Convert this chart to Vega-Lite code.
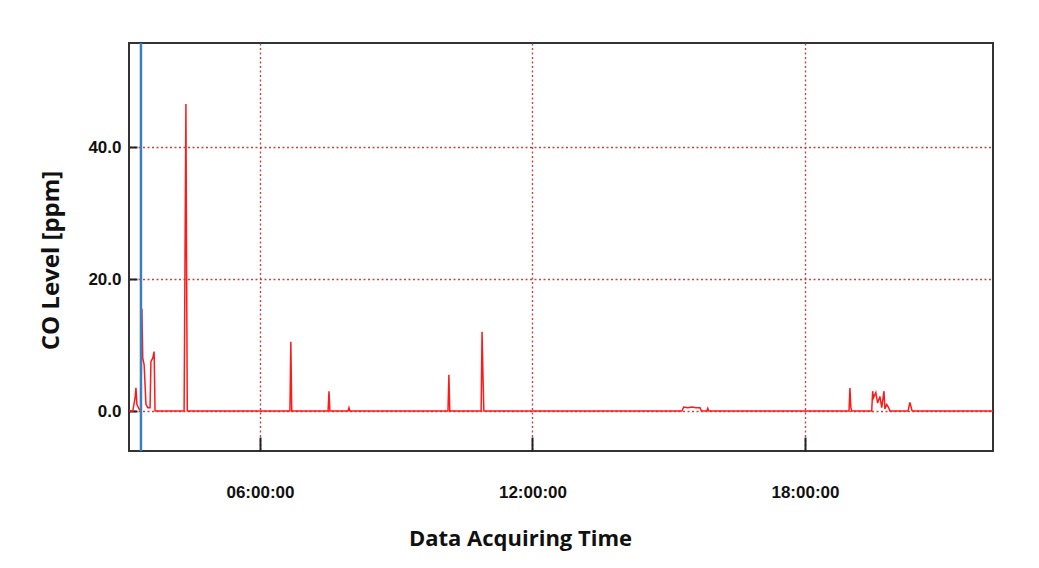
{
  "$schema": "https://vega.github.io/schema/vega-lite/v6.json",
  "width": 864,
  "height": 408,
  "autosize": {"type": "none"},
  "padding": {"left": 129, "top": 43, "right": 46, "bottom": 117},
  "background": "white",
  "config": {
    "view": {"stroke": "#333333", "strokeWidth": 2},
    "font": "Open Sans"
  },
  "datasets": {
    "co": [
      {"t": "2020-01-01T03:07:00Z", "co": 0},
      {"t": "2020-01-01T03:12:00Z", "co": 0},
      {"t": "2020-01-01T03:15:00Z", "co": 2},
      {"t": "2020-01-01T03:16:12Z", "co": 3.5},
      {"t": "2020-01-01T03:17:24Z", "co": 1},
      {"t": "2020-01-01T03:20:24Z", "co": 0.3},
      {"t": "2020-01-01T03:22:48Z", "co": 0},
      {"t": "2020-01-01T03:24:00Z", "co": 15.5},
      {"t": "2020-01-01T03:25:12Z", "co": 8},
      {"t": "2020-01-01T03:27:00Z", "co": 7},
      {"t": "2020-01-01T03:29:24Z", "co": 1},
      {"t": "2020-01-01T03:31:48Z", "co": 0.5},
      {"t": "2020-01-01T03:34:48Z", "co": 0.5},
      {"t": "2020-01-01T03:36:00Z", "co": 7.5},
      {"t": "2020-01-01T03:38:24Z", "co": 8},
      {"t": "2020-01-01T03:40:12Z", "co": 9},
      {"t": "2020-01-01T03:41:24Z", "co": 0},
      {"t": "2020-01-01T04:19:48Z", "co": 0},
      {"t": "2020-01-01T04:22:12Z", "co": 46.5},
      {"t": "2020-01-01T04:23:00Z", "co": 24},
      {"t": "2020-01-01T04:24:00Z", "co": 0},
      {"t": "2020-01-01T06:39:36Z", "co": 0},
      {"t": "2020-01-01T06:40:48Z", "co": 10.5},
      {"t": "2020-01-01T06:42:00Z", "co": 0},
      {"t": "2020-01-01T07:30:00Z", "co": 0},
      {"t": "2020-01-01T07:31:12Z", "co": 3},
      {"t": "2020-01-01T07:32:24Z", "co": 0},
      {"t": "2020-01-01T07:56:24Z", "co": 0},
      {"t": "2020-01-01T07:57:36Z", "co": 0.5},
      {"t": "2020-01-01T07:58:48Z", "co": 0},
      {"t": "2020-01-01T10:08:24Z", "co": 0},
      {"t": "2020-01-01T10:09:36Z", "co": 5.5},
      {"t": "2020-01-01T10:10:48Z", "co": 0},
      {"t": "2020-01-01T10:52:12Z", "co": 0},
      {"t": "2020-01-01T10:53:24Z", "co": 12},
      {"t": "2020-01-01T10:54:36Z", "co": 5.5},
      {"t": "2020-01-01T10:55:48Z", "co": 0},
      {"t": "2020-01-01T15:17:24Z", "co": 0},
      {"t": "2020-01-01T15:19:48Z", "co": 0.6},
      {"t": "2020-01-01T15:25:12Z", "co": 0.5},
      {"t": "2020-01-01T15:30:36Z", "co": 0.6},
      {"t": "2020-01-01T15:36:00Z", "co": 0.5},
      {"t": "2020-01-01T15:41:24Z", "co": 0.5},
      {"t": "2020-01-01T15:43:12Z", "co": 0},
      {"t": "2020-01-01T15:50:24Z", "co": 0},
      {"t": "2020-01-01T15:51:36Z", "co": 0.4},
      {"t": "2020-01-01T15:52:48Z", "co": 0},
      {"t": "2020-01-01T18:58:12Z", "co": 0},
      {"t": "2020-01-01T18:59:24Z", "co": 3.5},
      {"t": "2020-01-01T19:00:36Z", "co": 0.5},
      {"t": "2020-01-01T19:01:48Z", "co": 0},
      {"t": "2020-01-01T19:28:12Z", "co": 0},
      {"t": "2020-01-01T19:29:24Z", "co": 3},
      {"t": "2020-01-01T19:30:36Z", "co": 2},
      {"t": "2020-01-01T19:33:36Z", "co": 2.8},
      {"t": "2020-01-01T19:36:00Z", "co": 1.2},
      {"t": "2020-01-01T19:39:00Z", "co": 2.2},
      {"t": "2020-01-01T19:41:24Z", "co": 0.5},
      {"t": "2020-01-01T19:44:24Z", "co": 3},
      {"t": "2020-01-01T19:45:36Z", "co": 0.3},
      {"t": "2020-01-01T19:48:00Z", "co": 1},
      {"t": "2020-01-01T19:51:00Z", "co": 0.4},
      {"t": "2020-01-01T19:52:12Z", "co": 0},
      {"t": "2020-01-01T20:16:12Z", "co": 0},
      {"t": "2020-01-01T20:18:36Z", "co": 1.3},
      {"t": "2020-01-01T20:21:36Z", "co": 0},
      {"t": "2020-01-01T22:08:24Z", "co": 0}
    ],
    "marker": [
      {"t": "2020-01-01T03:22:48Z"}
    ]
  },
  "layer": [
    {
      "data": {"name": "co"},
      "mark": {"type": "line", "color": "#ff1a1a", "strokeWidth": 1.5, "interpolate": "linear", "clip": true},
      "encoding": {
        "x": {
          "field": "t",
          "type": "temporal",
          "scale": {
            "type": "utc",
            "domain": [
              {"year": 2020, "month": 1, "date": 1, "hours": 3, "minutes": 7, "utc": true},
              {"year": 2020, "month": 1, "date": 1, "hours": 22, "minutes": 8, "seconds": 24, "utc": true}
            ]
          },
          "axis": {
            "values": [
              {"year": 2020, "month": 1, "date": 1, "hours": 6, "utc": true},
              {"year": 2020, "month": 1, "date": 1, "hours": 12, "utc": true},
              {"year": 2020, "month": 1, "date": 1, "hours": 18, "utc": true}
            ],
            "format": "%H:%M:%S",
            "title": "Data Acquiring Time",
            "titleFont": "Open Sans",
            "titleFontSize": 22,
            "titleFontWeight": "bold",
            "titleColor": "#111111",
            "titlePadding": 28,
            "titleX": 391,
            "titleAlign": "center",
            "labelFont": "Liberation Sans",
            "labelFontSize": 17,
            "labelFontWeight": "bold",
            "labelColor": "#111111",
            "labelPadding": 47,
            "tickSize": -14,
            "tickColor": "#222222",
            "tickWidth": 2,
            "domain": false,
            "grid": true,
            "gridColor": "#c03030",
            "gridDash": [2, 2.5],
            "gridWidth": 1.4,
            "gridOpacity": 0.9
          }
        },
        "y": {
          "field": "co",
          "type": "quantitative",
          "scale": {"domain": [-6.06, 55.76], "nice": false, "zero": false},
          "axis": {
            "values": [0, 20, 40],
            "format": ".1f",
            "title": "CO Level [ppm]",
            "titleFont": "Open Sans",
            "titleFontSize": 24,
            "titleFontWeight": "bold",
            "titleColor": "#111111",
            "titlePadding": 24,
            "titleY": 217,
            "titleAlign": "center",
            "labelFont": "Liberation Sans",
            "labelFontSize": 17,
            "labelFontWeight": "bold",
            "labelColor": "#111111",
            "labelPadding": 16,
            "tickSize": -8,
            "tickColor": "#222222",
            "tickWidth": 2,
            "domain": false,
            "grid": true,
            "gridColor": "#c03030",
            "gridDash": [2, 2.5],
            "gridWidth": 1.4,
            "gridOpacity": 0.9
          }
        }
      }
    },
    {
      "data": {"name": "marker"},
      "mark": {"type": "rule", "color": "#3a7fc4", "strokeWidth": 2.5},
      "encoding": {
        "x": {"field": "t", "type": "temporal"}
      }
    }
  ]
}
